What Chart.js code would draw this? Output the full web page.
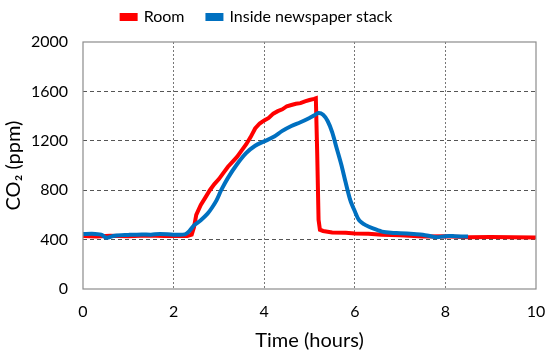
<!DOCTYPE html>
<html>
<head>
<meta charset="utf-8">
<script src="https://cdn.jsdelivr.net/npm/chart.js@4"></script>
<style>
  body { margin: 0; background: #fff; }
  #wrap { width: 550px; height: 355px; }
</style>
</head>
<body>
<div id="wrap"><canvas id="co2Chart"></canvas></div>
<script>
// meetpunten
const roomTime = [0, 0.3, 0.6, 1.0, 1.4, 1.8, 2.1, 2.3, 2.4, 2.45, 2.5, 2.6, 2.7, 2.8, 2.9, 3.0, 3.1, 3.2, 3.3, 3.4, 3.5, 3.6, 3.7, 3.8, 3.9, 4.0, 4.1, 4.2, 4.3, 4.4, 4.5, 4.6, 4.7, 4.8, 4.9, 5.0, 5.1, 5.14, 5.17, 5.2, 5.23, 5.3, 5.5, 5.8, 6.0, 6.3, 6.6, 7.0, 7.5, 8.0, 8.5, 9.0, 9.5, 10];
const roomCO2 = [430, 425, 432, 428, 433, 430, 432, 430, 440, 500, 600, 680, 740, 800, 850, 890, 940, 990, 1030, 1070, 1120, 1170, 1230, 1300, 1340, 1365, 1385, 1420, 1440, 1455, 1480, 1490, 1500, 1505, 1520, 1530, 1540, 1545, 1100, 560, 480, 470, 458, 455, 450, 448, 440, 435, 425, 428, 420, 422, 420, 418];

const stackTime = [0, 0.2, 0.4, 0.52, 0.7, 1.0, 1.3, 1.5, 1.7, 2.0, 2.25, 2.35, 2.45, 2.6, 2.75, 2.85, 2.95, 3.05, 3.2, 3.4, 3.6, 3.8, 4.0, 4.2, 4.4, 4.6, 4.8, 5.0, 5.1, 5.2, 5.3, 5.4, 5.5, 5.6, 5.7, 5.8, 5.9, 6.0, 6.1, 6.25, 6.4, 6.6, 6.8, 7.0, 7.3, 7.5, 7.8, 8.0, 8.2, 8.5];
const stackCO2 = [445, 448, 440, 415, 432, 438, 442, 440, 445, 440, 442, 470, 515, 557, 610, 660, 720, 800, 900, 1010, 1100, 1160, 1195, 1230, 1280, 1320, 1350, 1385, 1405, 1425, 1410, 1360, 1270, 1140, 1010, 860, 720, 630, 555, 515, 490, 465, 455, 452, 445, 440, 420, 428, 428, 425];

const yTicks = [0, 400, 800, 1200, 1600, 2000];
const xTicks = [0, 2, 4, 6, 8, 10];

const roomPoints = roomTime.map((t, i) => ({ x: t, y: roomCO2[i] }));
const stackPoints = stackTime.map((t, i) => ({ x: t, y: stackCO2[i] }));

// kader rond het plotgebied
const frame = {
  id: 'frame',
  afterDraw(chart) {
    const a = chart.chartArea;
    const ctx = chart.ctx;
    ctx.save();
    ctx.strokeStyle = '#8c8c8c';
    ctx.lineWidth = 1.2;
    ctx.strokeRect(a.left, a.top, a.right - a.left, a.bottom - a.top);
    ctx.restore();
  }
};

// legenda: vaste hoogte en iets naar links geschoven
const legendTweak = {
  id: 'legendTweak',
  afterInit(chart) {
    const lg = chart.legend;
    if (!lg) return;
    const origFit = lg.fit;
    lg.fit = function () {
      origFit.call(this);
      this.height = 56;
    };
    const origDraw = lg.draw;
    lg.draw = function () {
      this.ctx.save();
      this.ctx.translate(-18, 0);
      origDraw.call(this);
      this.ctx.restore();
    };
  }
};

const font = "Lato, 'Open Sans', sans-serif";

new Chart(document.getElementById('co2Chart'), {
  type: 'line',
  data: {
    datasets: [
      {
        label: 'Room',
        data: roomPoints,
        borderColor: '#ff0000',
        backgroundColor: '#ff0000',
        borderWidth: 4,
        pointRadius: 0,
        tension: 0,
        order: 2
      },
      {
        label: 'Inside newspaper stack',
        data: stackPoints,
        borderColor: '#0070c0',
        backgroundColor: '#0070c0',
        borderWidth: 4,
        pointRadius: 0,
        tension: 0.3,
        order: 1
      }
    ]
  },
  options: {
    responsive: true,
    maintainAspectRatio: false,
    animation: false,
    layout: { padding: { left: 0, right: 0, top: -14, bottom: 0 } },
    plugins: {
      legend: {
        display: true,
        position: 'top',
        labels: {
          boxWidth: 14,
          boxHeight: 4,
          color: '#000',
          padding: 23,
          font: { family: font, size: 16 },
          sort: (a, b) => a.datasetIndex - b.datasetIndex
        }
      },
      tooltip: { enabled: false }
    },
    scales: {
      x: {
        type: 'linear',
        min: 0,
        max: 10,
        afterBuildTicks: s => { s.ticks = xTicks.map(v => ({ value: v })); },
        afterFit: s => { s.height = 66; s.paddingRight = 14; },
        ticks: { color: '#000', font: { family: font, size: 16 }, padding: 13, callback: v => String(v) },
        grid: {
          drawTicks: false,
          color: c => (c.tick.value === 0 || c.tick.value === 10) ? 'rgba(0,0,0,0)' : '#777',
          lineWidth: 1
        },
        border: { display: false, dash: [2, 2] },
        title: { display: true, text: 'Time (hours)', color: '#000', font: { family: font, size: 20 }, padding: { top: 0, bottom: 2 } }
      },
      y: {
        min: 0,
        max: 2000,
        afterBuildTicks: s => { s.ticks = yTicks.map(v => ({ value: v })); },
        afterFit: s => { s.width = 83; },
        ticks: { color: '#000', font: { family: font, size: 16 }, padding: 15, callback: v => String(v) },
        grid: {
          drawTicks: false,
          color: c => (c.tick.value === 0 || c.tick.value === 2000) ? 'rgba(0,0,0,0)' : '#555',
          lineWidth: 1
        },
        border: { display: false, dash: [4, 3] },
        title: { display: true, text: 'CO₂ (ppm)', color: '#000', font: { family: font, size: 20 }, padding: { top: 2, bottom: 0 } }
      }
    }
  },
  plugins: [frame, legendTweak]
});
</script>
</body>
</html>
